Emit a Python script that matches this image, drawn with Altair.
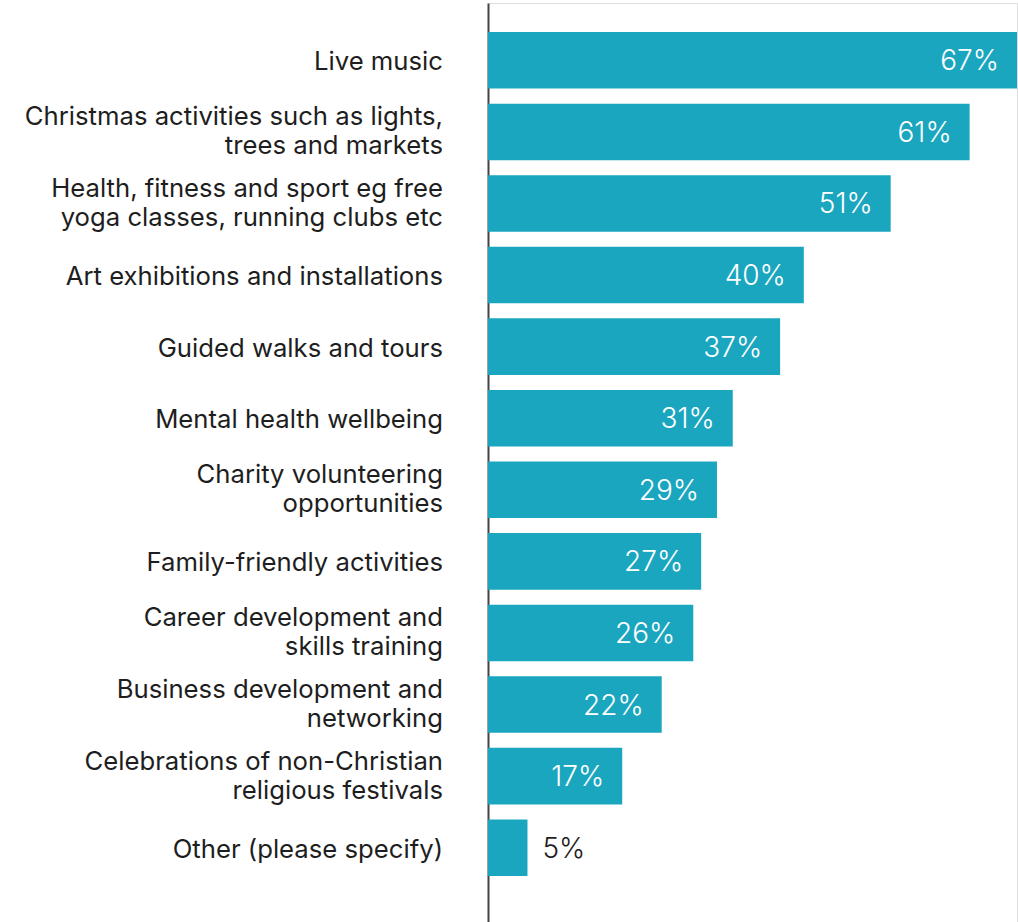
import altair as alt
import pandas as pd

categories = [
    "Live music",
    "Christmas activities such as lights,\ntrees and markets",
    "Health, fitness and sport eg free\nyoga classes, running clubs etc",
    "Art exhibitions and installations",
    "Guided walks and tours",
    "Mental health wellbeing",
    "Charity volunteering\nopportunities",
    "Family-friendly activities",
    "Career development and\nskills training",
    "Business development and\nnetworking",
    "Celebrations of non-Christian\nreligious festivals",
    "Other (please specify)",
]
values = [67, 61, 51, 40, 37, 31, 29, 27, 26, 22, 17, 5]
inside = [True] * 11 + [False]

df = pd.DataFrame({
    "cat": categories,
    "value": values,
    "label": [f"{v}%" for v in values],
    "inside": inside,
    "multi": ["\n" in c for c in categories],
})

FONT = "Inter"
BAR = "#1aa6bf"
TEXT = "#1e1e1e"

y = alt.Y("cat:N", sort=categories,
          scale=alt.Scale(domain=categories, paddingInner=0.21, paddingOuter=0.5245, align=0.387),
          axis=alt.Axis(labels=False, ticks=False, title=None, grid=False,
                        domainColor="#444444", domainWidth=2))
x = alt.X("value:Q", scale=alt.Scale(domain=[0, 67], nice=False, zero=True),
          axis=None)

base = alt.Chart(df)

bars = base.mark_bar(color=BAR).encode(y=y, x=x)

label_style = dict(align="right", baseline="middle", dx=-45, fontSize=25.7,
                   font=FONT, color=TEXT, lineBreak="\n", lineHeight=29)

cat_single = base.transform_filter("!datum.multi").mark_text(
    dy=2, **label_style
).encode(y=y, x=alt.value(0), text="cat:N")

cat_multi = base.transform_filter("datum.multi").mark_text(
    dy=-14.5, **label_style
).encode(y=y, x=alt.value(0), text="cat:N")

val_in = base.transform_filter("datum.inside").mark_text(
    align="right", baseline="middle", dx=-18, dy=2, fontSize=28, font=FONT,
    fontWeight=300, color="white",
).encode(y=y, x=x, text="label:N")

val_out = base.transform_filter("!datum.inside").mark_text(
    align="left", baseline="middle", dx=15, dy=2, fontSize=28, font=FONT,
    fontWeight=300, color=TEXT,
).encode(y=y, x=x, text="label:N")

chart = alt.layer(bars, cat_single, cat_multi, val_in, val_out).properties(
    width=529, height=919,
    autosize=alt.AutoSizeParams(type="none"),
    padding={"left": 488, "top": 3, "right": 1, "bottom": 0},
).configure_view(stroke=None).configure(background="white")

chart.save("out.html", embed_options={"renderer": "svg", "actions": False})
